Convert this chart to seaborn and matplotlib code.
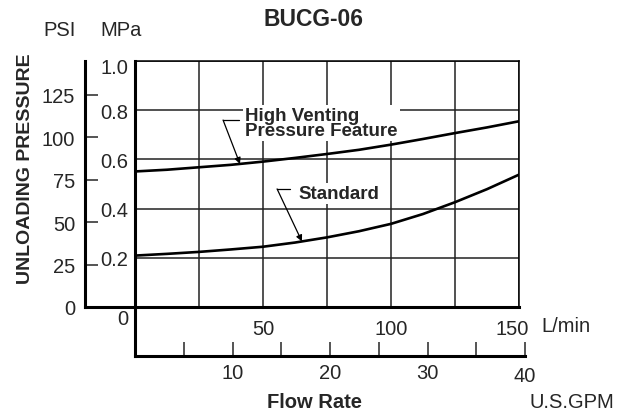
import numpy as np
import seaborn as sns
import matplotlib.pyplot as plt
from matplotlib.transforms import ScaledTranslation

# data (flow in L/min, pressure in MPa)
flow = [0, 12.5, 25, 37.5, 50, 62.5, 75, 87.5, 100, 112.5, 125, 137.5, 150]
high_venting = [0.551, 0.558, 0.568, 0.578, 0.591, 0.606, 0.622, 0.639, 0.660, 0.683, 0.707, 0.730, 0.755]
standard = [0.209, 0.216, 0.224, 0.234, 0.245, 0.262, 0.283, 0.308, 0.338, 0.378, 0.426, 0.479, 0.538]

lpm_ticks = [0, 25, 50, 75, 100, 125, 150]
lpm_labels = ["", "", "50", "", "100", "", "150"]
mpa_ticks = [0, 0.2, 0.4, 0.6, 0.8, 1.0]
mpa_labels = ["", "0.2", "0.4", "0.6", "0.8", "1.0"]
psi_ticks = [0, 25, 50, 75, 100, 125]
gpm_ticks = [0, 5, 10, 15, 20, 25, 30, 35, 40]
gpm_labels = ["", "", "10", "", "20", "", "30", "", "40"]

sns.set_style("white")
plt.rcParams["font.family"] = ["Liberation Sans", "DejaVu Sans"]

W, H = 627, 414
fig = plt.figure(figsize=(W / 100, H / 100), dpi=100)


def box(l, t, r, b):
    return [l / W, 1 - b / H, (r - l) / W, (b - t) / H]


def ftext(x, y, s, **kw):
    fig.text(x / W, 1 - y / H, s, ha=kw.pop("ha", "center"), va=kw.pop("va", "center"), **kw)


def nudge(label, dx, dy):
    # shift a tick label by a few pixels
    label.set_transform(label.get_transform() + ScaledTranslation(dx / 100, dy / 100, fig.dpi_scale_trans))


thick, thin = 2.2, 1.1
num = 14.5

# PSI scale, to the left of the main plot
psi_ax = fig.add_axes(box(85, 62, 135, 308))
psi_ax.set_facecolor("none")
psi_ax.set_ylim(0, 145.04)
psi_ax.set_yticks(psi_ticks)
psi_ax.set_xticks([])
psi_ax.tick_params(axis="y", direction="in", length=9.5, width=thin, pad=7, labelsize=num, left=True)
for side in ["top", "right"]:
    psi_ax.spines[side].set_visible(False)
for side in ["left", "bottom"]:
    psi_ax.spines[side].set_linewidth(thick)
    psi_ax.spines[side].set_color("black")

# U.S.GPM scale below the main plot
gpm_ax = fig.add_axes(box(135, 308, 525, 357))
gpm_ax.set_facecolor("none")
gpm_ax.set_xlim(0, 40)
gpm_ax.set_xticks(gpm_ticks)
gpm_ax.set_xticklabels(gpm_labels)
gpm_ax.set_yticks([])
gpm_ax.tick_params(axis="x", direction="in", length=10, width=thin, pad=5, labelsize=num, bottom=True)
for side in ["top", "right"]:
    gpm_ax.spines[side].set_visible(False)
for side in ["left", "bottom"]:
    gpm_ax.spines[side].set_linewidth(thick)
    gpm_ax.spines[side].set_color("black")
nudge(gpm_ax.get_xticklabels()[-1], 0, -3)

# main plot
ax = fig.add_axes(box(135, 62, 519, 308))
ax.set_xlim(0, 150)
ax.set_ylim(0, 1.0)
ax.set_xticks(lpm_ticks)
ax.set_xticklabels(lpm_labels)
ax.set_yticks(mpa_ticks)
ax.set_yticklabels(mpa_labels)
ax.tick_params(axis="x", length=0, pad=9, labelsize=num)
ax.tick_params(axis="y", length=0, pad=5, labelsize=num)
ax.grid(True, color="#222222", lw=thin)
for side in ["left", "bottom"]:
    ax.spines[side].set_linewidth(thick)
for side in ["top", "right"]:
    ax.spines[side].set_linewidth(thin)
for sp in ax.spines.values():
    sp.set_color("black")
    sp.set_zorder(3)
nudge(ax.get_xticklabels()[-1], -7, 0)
nudge(ax.get_yticklabels()[-1], 0, -4)

sns.lineplot(x=flow, y=high_venting, ax=ax, color="black", lw=1.9, zorder=4)
sns.lineplot(x=flow, y=standard, ax=ax, color="black", lw=1.9, zorder=4)

lbl = dict(fontsize=13.5, fontweight="bold", ha="left", va="center", zorder=5,
           bbox=dict(facecolor="white", edgecolor="none", pad=1.5))
ax.text(43.0, 0.748, "High Venting\nPressure Feature", linespacing=0.9, **lbl)
ax.text(63.7, 0.463, "Standard", **lbl)

arrow = dict(arrowstyle="-|>", color="black", lw=0.9, mutation_scale=9, shrinkA=0, shrinkB=0)
for corner, end, tip_x, curve in [((34.4, 0.760), 40.6, 41.0, high_venting),
                                   ((55.5, 0.480), 60.5, 65.2, standard)]:
    tip_y = np.interp(tip_x, flow, curve)
    ax.annotate("", xy=(tip_x, tip_y), xytext=corner, arrowprops=arrow, zorder=5)
    ax.plot([corner[0], end], [corner[1], corner[1]], color="black", lw=0.9, zorder=5)

# free labels
ftext(313.5, 20, "BUCG-06", fontsize=16.5, fontweight="bold")
ftext(60, 30, "PSI", fontsize=num)
ftext(121, 30, "MPa", fontsize=num)
ftext(26, 169, "UNLOADING PRESSURE", fontsize=14, fontweight="bold", rotation=90)
ftext(122.5, 320, "0", fontsize=num)
ftext(566, 327, "L/min", fontsize=num)
ftext(314.5, 403, "Flow Rate", fontsize=14.5, fontweight="bold")
ftext(572, 403, "U.S.GPM", fontsize=num)

fig.savefig("out.png", dpi=100)
